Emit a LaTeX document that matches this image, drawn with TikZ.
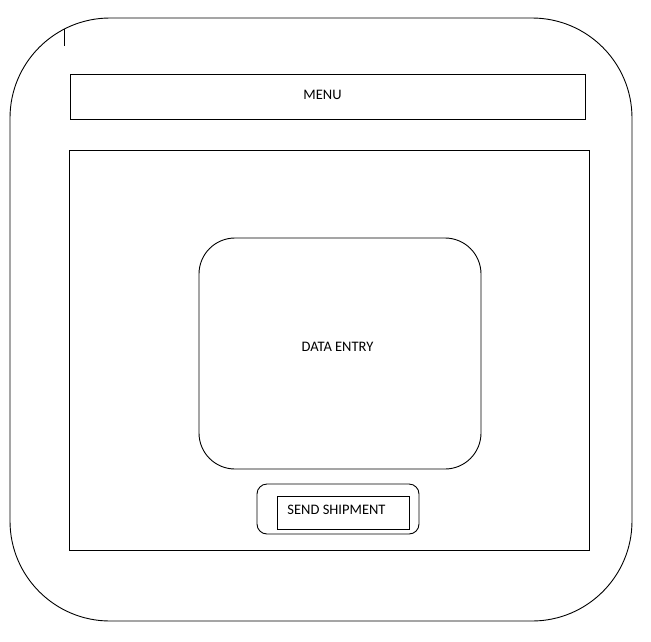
\documentclass[tikz,border=0pt]{standalone}
\usepackage{fontspec}
\setmainfont{Carlito}
\begin{document}
\begin{tikzpicture}[x=1pt,y=-1pt,
  box/.style={draw=black,line width=0.9pt,inner sep=0pt},
  lbl/.style={font=\fontsize{14.5}{16}\selectfont,text=black}]
\useasboundingbox (0,0) rectangle (651,641);
\draw[line width=0.9pt,rounded corners=100pt] (10,18) rectangle (632,621);
\draw[line width=0.9pt] (64,29) -- (64,46);
\node[box,minimum width=515pt,minimum height=45pt] (menu) at (327.5,96.5) {};
\node[lbl] (menutext) at (322.5,95) {MENU};
\node[box,minimum width=520pt,minimum height=400pt] (main) at (329,350) {};
\node[box,rounded corners=36pt,minimum width=282pt,minimum height=231pt] (data) at (340,353.5) {};
\node[lbl] (datatext) at (337.5,347) {DATA ENTRY};
\node[box,rounded corners=10pt,minimum width=162pt,minimum height=50pt] (sendout) at (338,509) {};
\node[box,minimum width=132pt,minimum height=33pt] (sendin) at (343,512.5) {};
\node[lbl] (sendtext) at (336.5,510) {SEND SHIPMENT};
\end{tikzpicture}
\end{document}
